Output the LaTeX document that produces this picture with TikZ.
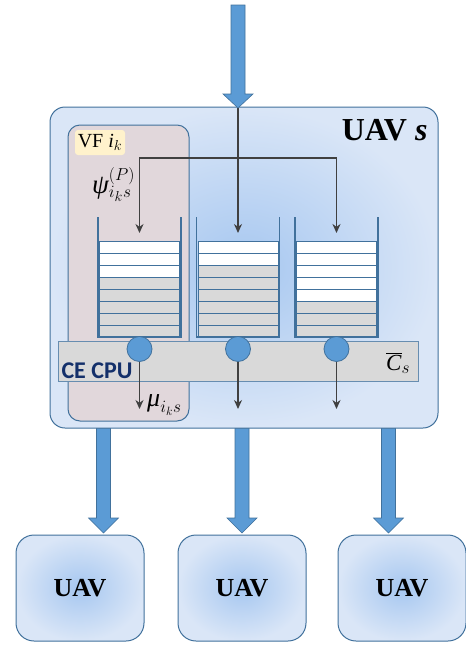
\documentclass[tikz,border=0pt]{standalone}
\usepackage{fontspec}
\setmainfont{Liberation Serif}
\newfontfamily\cefont{Carlito}
\usetikzlibrary{arrows.meta}
\definecolor{arrowblue}{HTML}{5B9BD5}
\definecolor{edgeblue}{HTML}{41719C}
\definecolor{boxin}{HTML}{A6C7F0}
\definecolor{boxout}{HTML}{DAE6F7}
\definecolor{vfpink}{HTML}{E1D7DB}
\definecolor{slotgray}{HTML}{D9D9D9}
\definecolor{linegray}{HTML}{404040}
\definecolor{navy}{HTML}{14306A}
\definecolor{vfyellow}{HTML}{FFF2CC}
\newcommand\fatarr[4]{\draw[fatarrow] (#1-7,#2) -- (#1+7,#2) -- (#1+7,#3) -- (#1+15,#3) -- (#1,#4) -- (#1-15,#3) -- (#1-7,#3) -- cycle;}
\tikzset{
 fatarrow/.style={fill=arrowblue, draw=edgeblue, line width=0.6pt},
 uavbox/.style={draw=edgeblue, line width=1pt, rounded corners=18pt, inner color=boxin, outer color=boxout, minimum width=128pt, minimum height=106pt, font=\fontsize{26}{30}\selectfont\bfseries},
 flow/.style={draw=linegray, line width=1.5pt, -{Stealth[length=9pt,width=8pt]}},
 wall/.style={draw=edgeblue, line width=1.6pt},
 emptyslot/.style={fill=white, draw=edgeblue, line width=1pt},
 fullslot/.style={fill=slotgray, draw=edgeblue, line width=1pt},
 server/.style={circle, fill=arrowblue, draw=edgeblue, line width=0.8pt, minimum size=25pt, inner sep=0pt},
 qspace/.style={minimum width=83pt, minimum height=120pt, inner sep=0pt, outer sep=0pt},
}
\begin{document}
\begin{tikzpicture}[x=1pt,y=-1pt]
\useasboundingbox (0,0) rectangle (466,646);
% bottom fat arrows
\fatarr{103.5}{428}{518}{533}
\fatarr{242}{428}{518}{533}
\fatarr{388.5}{428}{518}{533}
% big box
\node[draw=edgeblue, line width=1pt, rounded corners=15pt, inner color=boxin, outer color=boxout, minimum width=388pt, minimum height=321pt] (uavs) at (244,267.5) {};
\node[anchor=base east, font=\fontsize{32}{36}\selectfont\bfseries] (uavslabel) at (431,140) {UAV \textit{s}};
% VF box
\node[draw=edgeblue, line width=1pt, rounded corners=12pt, fill=vfpink, minimum width=121pt, minimum height=296pt] (vf) at (128.5,273) {};
\node[fill=vfyellow, rounded corners=3pt, inner sep=0pt, minimum width=50pt, minimum height=25pt] (vflabel) at (100,142.5) {\fontsize{20}{22}\selectfont VF \textit{i}$_k$};
\node[anchor=base west, inner sep=0pt] (psi) at (92,193) {\fontsize{27}{30}\selectfont $\textit{ψ}^{(P)}_{i_k s}$};
% input lines
\coordinate (tip) at (238,108);
\coordinate (split) at (238,158);
\coordinate (in1) at (139.5,233);
\coordinate (in2) at (238,233);
\coordinate (in3) at (336.5,233);
\draw[flow] (tip) -- (in2);
\draw[flow] (split) -| (in1);
\draw[flow] (split) -| (in3);
% queues
\foreach \i/\cx/\nw in {1/139.5/3, 2/238/2, 3/336.5/5}{
  \node[qspace] (q\i) at (\cx,277) {};
  \foreach \k in {0,...,7}{
    \pgfmathsetmacro{\yt}{241+12*\k}
    \ifnum\k<\nw
      \draw[emptyslot] (\cx-40,\yt) rectangle (\cx+40,\yt+12);
    \else
      \draw[fullslot] (\cx-40,\yt) rectangle (\cx+40,\yt+12);
    \fi
  }
  \draw[wall] (q\i.north west) -- (q\i.south west) -- (q\i.south east) -- (q\i.north east);
}
% CPU bar
\node[draw=edgeblue!80, fill=slotgray, line width=0.8pt, minimum width=360pt, minimum height=40pt] (cpu) at (238,361) {};
\node[anchor=base west, text=navy, font=\cefont\fontsize{24}{28}\selectfont\bfseries] (celabel) at (58,378) {CE CPU};
\node[anchor=base west, inner sep=0pt] (cbar) at (386,370) {\fontsize{23}{26}\selectfont $\overline{\textit{C}}_s$};
% servers and outputs
\foreach \i/\cx in {1/139.5, 2/238, 3/336.5}{
  \node[server] (s\i) at (\cx,349) {};
  \coordinate (o\i) at (\cx,409);
  \draw[flow] (s\i.south) -- (o\i);
}
\node[anchor=base west, inner sep=0pt] (mu) at (147,406) {\fontsize{26}{30}\selectfont $\textit{μ}_{i_k s}$};
% top fat arrow
\fatarr{238}{5}{94}{108}
% bottom UAV boxes
\node[uavbox] (u1) at (80,588) {UAV};
\node[uavbox] (u2) at (242,588) {UAV};
\node[uavbox] (u3) at (402,588) {UAV};
\end{tikzpicture}
\end{document}
